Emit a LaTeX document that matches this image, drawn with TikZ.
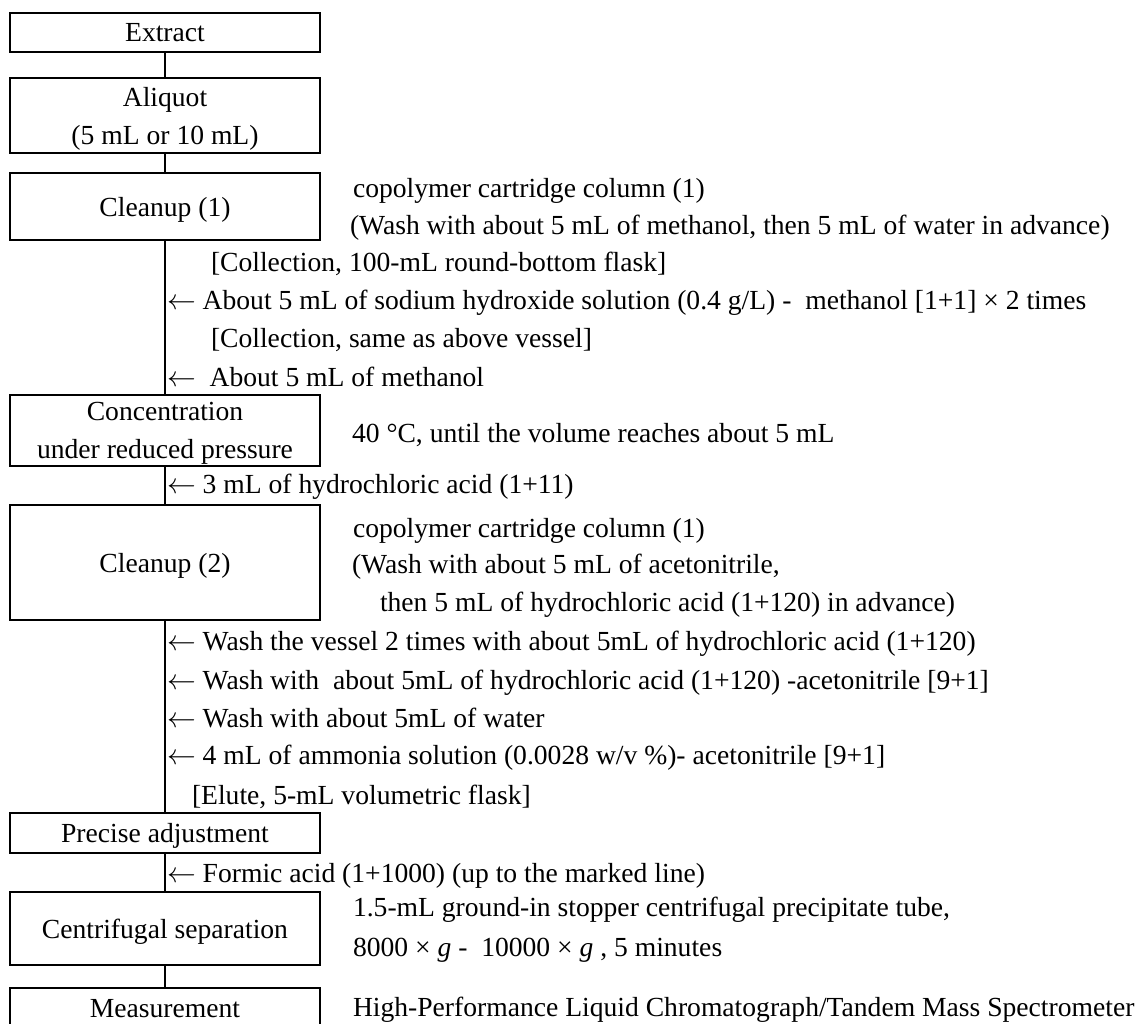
\documentclass[tikz,border=0pt]{standalone}
\usepackage{fontspec}
\setmainfont{Liberation Serif}

\begin{document}
\begin{tikzpicture}[x=.5pt,y=-.5pt,
  stepbox/.style={draw=black,line width=1pt,fill=white,minimum width=155pt,inner sep=0pt,text depth=0pt,align=center,font=\fontsize{13.8}{19}\selectfont},
  note/.style={inner sep=0pt,outer sep=0pt,anchor=mid west,font=\fontsize{13.8}{19}\selectfont}]
\path[use as bounding box] (0,0) rectangle (1145,1023);
\path[fill=white,draw=none] (0,0) rectangle (1145,1023);
% main steps
\node[stepbox,minimum height=19.5pt] (extract) at (165,32.5) {Extract};
\node[stepbox,minimum height=37.5pt] (aliquot) at (165,115.5) {Aliquot\\(5 mL or 10 mL)};
\node[stepbox,minimum height=33.5pt] (cleanA) at (165,206.5) {Cleanup (1)};
\node[stepbox,minimum height=35.5pt] (concent) at (165,430.5) {Concentration\\under reduced pressure};
\node[stepbox,minimum height=57.5pt] (cleanB) at (165,562.5) {Cleanup (2)};
\node[stepbox,minimum height=20pt] (precise) at (165,833) {Precise adjustment};
\node[stepbox,minimum height=36.5pt] (centrif) at (165,928.5) {Centrifugal separation};
\node[stepbox,minimum height=20pt] (measure) at (165,1008) {Measurement};
\foreach \a/\b in {extract/aliquot,aliquot/cleanA,cleanA/concent,concent/cleanB,cleanB/precise,precise/centrif,centrif/measure}
  \draw[line width=1pt] (\a) -- (\b);
% side notes
\node[note] (colA) at (353,193) {copolymer cartridge column (1)};
\node[note] (washA) at (350,230) {(Wash with about 5 mL of methanol, then 5 mL of water in advance)};
\node[note] (collA) at (211,267) {[Collection, 100-mL round-bottom flask]};
\node[note] (naoh) at (167,305) {$\leftarrow$ About 5 mL of sodium hydroxide solution (0.4 g/L) -\ \ methanol [1+1] × 2 times};
\node[note] (collB) at (211,343) {[Collection, same as above vessel]};
\node[note] (meoh) at (167,382) {$\leftarrow$\ \ About 5 mL of methanol};
\node[note] (temp) at (352,438) {40 °C, until the volume reaches about 5 mL};
\node[note] (hcl) at (167,489) {$\leftarrow$ 3 mL of hydrochloric acid (1+11)};
\node[note] (colB) at (353,533) {copolymer cartridge column (1)};
\node[note] (washB) at (352,569) {(Wash with about 5 mL of acetonitrile,};
\node[note] (washC) at (380,607) {then 5 mL of hydrochloric acid (1+120) in advance)};
\node[note] (rinseA) at (167,646) {$\leftarrow$ Wash the vessel 2 times with about 5mL of hydrochloric acid (1+120)};
\node[note] (rinseB) at (167,685) {$\leftarrow$ Wash with\ \ about 5mL of hydrochloric acid (1+120) -acetonitrile [9+1]};
\node[note] (rinseC) at (167,723) {$\leftarrow$ Wash with about 5mL of water};
\node[note] (ammon) at (167,760) {$\leftarrow$ 4 mL of ammonia solution (0.0028 w/v \%)- acetonitrile [9+1]};
\node[note] (flask) at (192,800) {[Elute, 5-mL volumetric flask]};
\node[note] (formic) at (167,878) {$\leftarrow$ Formic acid (1+1000) (up to the marked line)};
\node[note] (tube) at (353,912) {1.5-mL ground-in stopper centrifugal precipitate tube,};
\node[note] (speed) at (353,952) {8000 × \textit{g} -\ \ 10000 × \textit{g} , 5 minutes};
\node[note] (hplc) at (353,1012) {High-Performance Liquid Chromatograph/Tandem Mass Spectrometer};
\end{tikzpicture}
\end{document}
